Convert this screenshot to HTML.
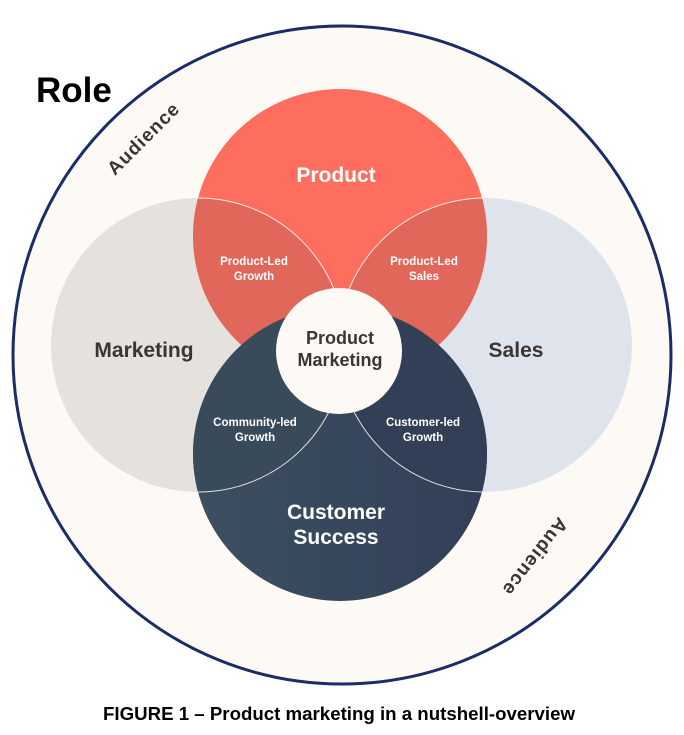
<!DOCTYPE html>
<html><head><meta charset="utf-8"><style>
html,body{margin:0;padding:0;background:#fff;}
svg{display:block;}
text{font-family:"Liberation Sans",Arial,sans-serif;font-weight:bold;}
</style></head><body>
<svg width="684" height="735" viewBox="0 0 684 735" xmlns="http://www.w3.org/2000/svg">
<defs>
<linearGradient id="cs" x1="0" x2="1" y1="0" y2="0"><stop offset="0" stop-color="#3c5060"/><stop offset="1" stop-color="#323f58"/></linearGradient>
<clipPath id="cP"><circle cx="340" cy="236" r="147"/></clipPath>
<clipPath id="cC"><circle cx="340" cy="454" r="147"/></clipPath>
<clipPath id="cM"><circle cx="198" cy="345" r="147"/></clipPath>
<clipPath id="cS"><circle cx="485" cy="345" r="147"/></clipPath>
</defs>
<circle cx="342" cy="355" r="329" fill="#fdfaf5" stroke="#1b2c66" stroke-width="3"/>
<circle cx="198" cy="345" r="147" fill="#e5e2dd"/>
<circle cx="485" cy="345" r="147" fill="#dfe4ec"/>
<circle cx="340" cy="454" r="147" fill="url(#cs)"/>
<circle cx="340" cy="236" r="147" fill="#fe6e5e"/>
<g clip-path="url(#cP)"><circle cx="198" cy="345" r="147" fill="#e0675a"/><circle cx="485" cy="345" r="147" fill="#e0675a"/><circle cx="340" cy="454" r="147" fill="#352e2f"/></g>
<g clip-path="url(#cC)"><circle cx="198" cy="345" r="147" fill="#394a5a"/><circle cx="485" cy="345" r="147" fill="#323f57"/></g>
<g fill="none" stroke="#fff" stroke-opacity="0.85" stroke-width="1">
<g clip-path="url(#cP)"><circle cx="198" cy="345" r="147"/><circle cx="485" cy="345" r="147"/></g>
<g clip-path="url(#cC)"><circle cx="198" cy="345" r="147"/><circle cx="485" cy="345" r="147"/></g>
</g>
<circle cx="339" cy="351" r="63" fill="#fdfaf5"/>
<text x="36" y="102" font-size="35" fill="#000">Role</text>
<text transform="translate(148,143) rotate(-45)" text-anchor="middle" font-size="19" fill="#3a3535" letter-spacing="1">Audience</text>
<text transform="translate(530,553) rotate(128)" text-anchor="middle" font-size="19" fill="#3a3535" letter-spacing="1">Audience</text>
<text x="336" y="182" text-anchor="middle" font-size="21" fill="#fff">Product</text>
<text x="144" y="357" text-anchor="middle" font-size="21" fill="#3a3535">Marketing</text>
<text x="516" y="357" text-anchor="middle" font-size="21" fill="#3a3535">Sales</text>
<text x="336" y="519" text-anchor="middle" font-size="21" fill="#fff">Customer</text>
<text x="336" y="544" text-anchor="middle" font-size="21" fill="#fff">Success</text>
<text x="340" y="344" text-anchor="middle" font-size="18" fill="#3a3535">Product</text>
<text x="340" y="366" text-anchor="middle" font-size="18" fill="#3a3535">Marketing</text>
<g font-size="11.5" fill="#fff" text-anchor="middle">
<text x="254" y="265">Product-Led</text><text x="254" y="280">Growth</text>
<text x="424" y="265">Product-Led</text><text x="424" y="280">Sales</text>
<text x="255" y="426">Community-led</text><text x="255" y="441">Growth</text>
<text x="423" y="426">Customer-led</text><text x="423" y="441">Growth</text>
</g>
<text x="103" y="720" font-size="18" fill="#000" textLength="472" lengthAdjust="spacingAndGlyphs">FIGURE 1 – Product marketing in a nutshell-overview</text>
</svg>
</body></html>
